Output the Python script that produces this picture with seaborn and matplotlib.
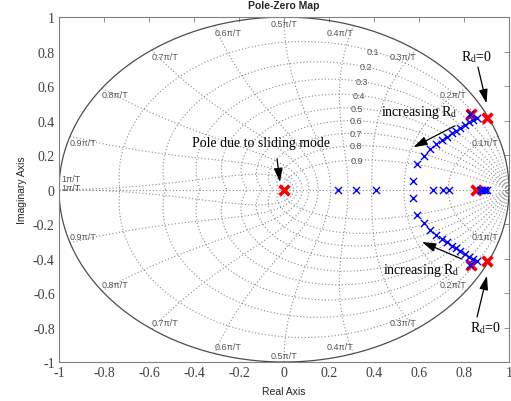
import numpy as np
import pandas as pd
import matplotlib
matplotlib.use("Agg")
import matplotlib.pyplot as plt
import seaborn as sns

# Closed-loop poles of the sliding-mode controller (open-loop / Rd = 0 poles in red)
red_re = [0.0, 0.855, 0.900, 0.900, 0.830, 0.830]
red_im = [0.0, 0.0, 0.415, -0.415, 0.440, -0.440]

# Complex branch of the locus as Rd increases (upper half; the lower half is its conjugate)
branch_re = [0.572, 0.593, 0.620, 0.649, 0.676, 0.700, 0.723, 0.745,
             0.764, 0.782, 0.804, 0.824, 0.841, 0.858, 0.827]
branch_im = [0.051, 0.148, 0.196, 0.235, 0.264, 0.287, 0.306, 0.326,
             0.341, 0.357, 0.376, 0.390, 0.405, 0.414, 0.440]

# Real poles of the locus
real_re = [0.241, 0.319, 0.409, 0.664, 0.708, 0.735,
           0.870, 0.876, 0.882, 0.888, 0.894, 0.900]

# z-plane grid: damping ratios and natural frequencies (in units of pi/T)
zeta_vals = [0.1, 0.2, 0.3, 0.4, 0.5, 0.6, 0.7, 0.8, 0.9]
wn_vals = [0.1, 0.2, 0.3, 0.4, 0.5, 0.6, 0.7, 0.8, 0.9, 1.0]
wn_label_pos = 1.12  # natural frequency (rad) at which damping labels sit

x_ticks = [-1, -0.8, -0.6, -0.4, -0.2, 0, 0.2, 0.4, 0.6, 0.8, 1]
y_ticks = [-1, -0.8, -0.6, -0.4, -0.2, 0, 0.2, 0.4, 0.6, 0.8, 1]

locus = pd.DataFrame({
    "re": branch_re + branch_re + real_re,
    "im": branch_im + [-v for v in branch_im] + [0.0] * len(real_re),
})
base = pd.DataFrame({"re": red_re, "im": red_im})

sns.set_theme(style="white")
plt.rcParams["mathtext.fontset"] = "stix"
plt.rcParams["font.family"] = ["Liberation Sans", "DejaVu Sans"]

fig = plt.figure(figsize=(5.11, 4.02), dpi=100)
ax = fig.add_axes([0.1155, 0.097, 0.8806, 0.858])

grid_kw = dict(color="#8a8a8a", lw=0.8, ls=(0, (1, 2)), zorder=1)
lab_color = "#555555"
lab_kw = dict(fontsize=6.5, color=lab_color, family="Liberation Sans", zorder=2)

# damping-ratio curves
w = np.linspace(0, np.pi, 300)
for z in zeta_vals:
    m = z / np.sqrt(1 - z ** 2)
    c = np.exp(w * (-m + 1j))
    ax.plot(c.real, c.imag, **grid_kw)
    ax.plot(c.real, -c.imag, **grid_kw)
    p = np.exp(wn_label_pos * (-z + 1j * np.sqrt(1 - z ** 2)))
    ax.text(p.real, p.imag, f"{z:g}", ha="center", va="center", **lab_kw)

# natural-frequency curves
zz = np.linspace(0, 1, 200)
for f in wn_vals:
    c = np.exp(f * np.pi * (-zz + 1j * np.sqrt(1 - zz ** 2)))
    ax.plot(c.real, c.imag, **grid_kw)
    ax.plot(c.real, -c.imag, **grid_kw)
    a = f * np.pi
    cx, sy = np.cos(a), np.sin(a)
    txt = f"{f:g}\u03c0/T"
    if f == 1.0:
        ax.annotate(txt, (-1, 0), xytext=(2, 7.6), textcoords="offset points",
                    ha="left", va="center", **lab_kw)
        ax.annotate(txt, (-1, 0), xytext=(2, 1.6), textcoords="offset points",
                    ha="left", va="center", **lab_kw)
        continue
    ha = "right" if cx > 0.01 else ("left" if cx < -0.01 else "center")
    ax.annotate(txt, (cx, sy), xytext=(0, -1.5), textcoords="offset points",
                ha=ha, va="top", **lab_kw)
    ax.annotate(txt, (cx, -sy), xytext=(0, 1.5), textcoords="offset points",
                ha=ha, va="bottom", **lab_kw)

# real axis and unit circle
ax.plot([-1, 1], [0, 0], **grid_kw)
th = np.linspace(0, 2 * np.pi, 600)
ax.plot(np.cos(th), np.sin(th), color="#4d4d4d", lw=0.9, zorder=2)

# poles
sns.scatterplot(data=locus, x="re", y="im", marker="x", color="#0000ff",
                s=26, linewidth=1.0, ax=ax, zorder=4, legend=False)
sns.scatterplot(data=base, x="re", y="im", marker="x", color="#ff0000",
                s=50, linewidth=2.6, ax=ax, zorder=3, legend=False)

# annotations
serif = dict(family="Liberation Serif", fontsize=10, color="black", zorder=6)
arrow = dict(arrowstyle="-|>,head_length=0.7,head_width=0.22", color="black",
             lw=0.9, mutation_scale=12, shrinkA=0, shrinkB=0)

ax.text(-0.102, 0.275, "Pole due to sliding mode", ha="center", va="center", **serif)
ax.annotate("", xy=(-0.018, 0.043), xytext=(-0.031, 0.177), arrowprops=arrow, zorder=6)

ax.text(0.858, 0.774, r"R$_{\mathrm{d}}$=0", ha="center", va="center", **serif)
ax.annotate("", xy=(0.900, 0.500), xytext=(0.862, 0.710), arrowprops=arrow, zorder=6)

ax.text(0.431, 0.451, r"increasing R$_{\mathrm{d}}$", ha="left", va="center", **serif)
ax.annotate("", xy=(0.575, 0.245), xytext=(0.760, 0.370), arrowprops=arrow, zorder=6)

ax.text(0.438, -0.461, r"increasing R$_{\mathrm{d}}$", ha="left", va="center", **serif)
ax.annotate("", xy=(0.613, -0.304), xytext=(0.791, -0.403), arrowprops=arrow, zorder=6)

ax.text(0.898, -0.800, r"R$_{\mathrm{d}}$=0", ha="center", va="center", **serif)
ax.annotate("", xy=(0.902, -0.500), xytext=(0.858, -0.739), arrowprops=arrow, zorder=6)

# axes styling
ax.set_xlim(-1, 1)
ax.set_ylim(-1, 1)
ax.set_xticks(x_ticks)
ax.set_yticks(y_ticks)
ax.set_xticklabels([f"{v:g}" for v in x_ticks])
ax.set_yticklabels([f"{v:g}" for v in y_ticks])
ax.tick_params(direction="in", top=True, right=True, length=3.5, width=0.6,
               color="#808080", labelcolor="#404040", labelsize=10,
               labelfontfamily="Liberation Serif", pad=3)
for sp in ax.spines.values():
    sp.set_color("#808080")
    sp.set_linewidth(0.8)
ax.set_title("Pole-Zero Map", fontsize=7.5, fontweight="bold", pad=6.5)
ax.set_xlabel("Real Axis", fontsize=7.5, labelpad=5)
ax.set_ylabel("Imaginary Axis", fontsize=7.5, labelpad=4)

fig.savefig("out.png", dpi=100)
